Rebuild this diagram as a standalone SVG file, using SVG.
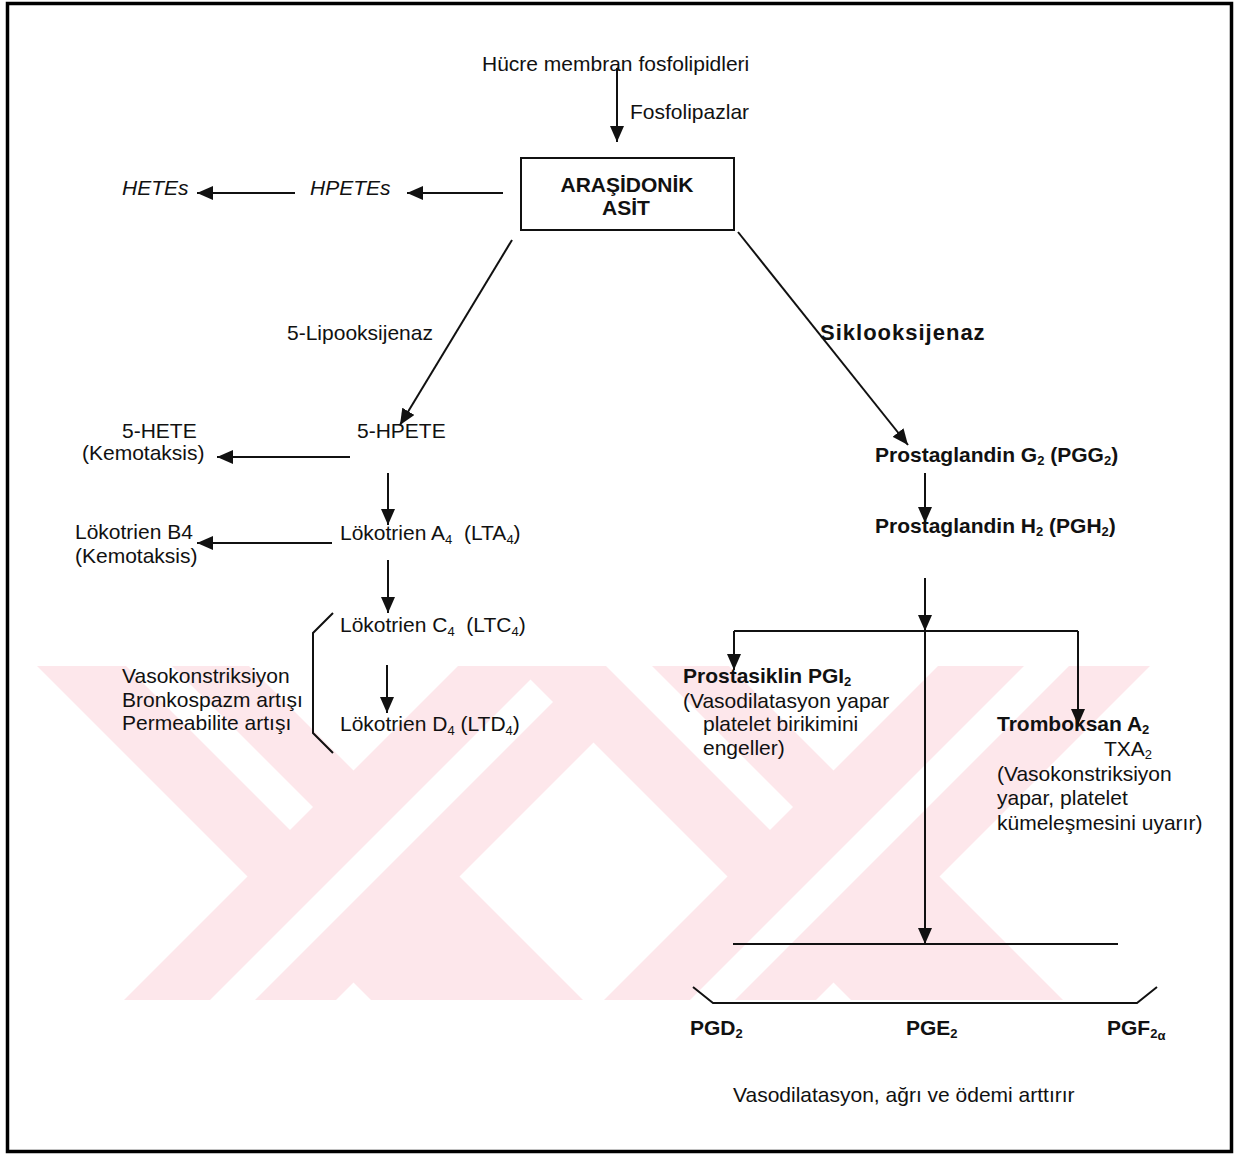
<svg xmlns="http://www.w3.org/2000/svg" width="1245" height="1155" viewBox="0 0 1245 1155">
<style>
text{font-family:"Liberation Sans",Arial,sans-serif;font-size:21px;fill:#111}
.b{font-weight:bold}
.i{font-style:italic}
.s{font-size:13px}
.ln{stroke:#111;stroke-width:2;fill:none}
.ar{stroke:#111;stroke-width:2;fill:none;marker-end:url(#ah)}
.wm{fill:#fde7eb}
.ww{fill:#fff}
</style>
<defs>
<marker id="ah" viewBox="0 0 16 14" markerWidth="16" markerHeight="14" refX="16" refY="7" orient="auto" markerUnits="userSpaceOnUse">
<path d="M0,0 L16,7 L0,14 z" fill="#111"/>
</marker>
<clipPath id="wmc"><rect x="37" y="666" width="1193" height="334"/></clipPath>
</defs>
<rect x="0" y="0" width="1245" height="1155" fill="#fff"/>
<g id="watermark" clip-path="url(#wmc)">
<polygon class="wm" points="37,666 249,666 583,1000 371,1000"/>
<polygon class="wm" points="458,666 670,666 336,1000 124,1000"/>
<polygon class="ww" points="126,666 172,666 313,807 290,830"/>
<polygon class="ww" points="544,666 589,666 255,1000 210,1000"/>
<polygon class="wm" points="517,666 729,666 1063,1000 851,1000"/>
<polygon class="wm" points="938,666 1150,666 816,1000 604,1000"/>
<polygon class="ww" points="606,666 652,666 793,807 770,830"/>
<polygon class="ww" points="1024,666 1069,666 735,1000 690,1000"/>
</g>
<rect x="7.5" y="3.5" width="1224" height="1148" fill="none" stroke="#000" stroke-width="3.5"/>
<g id="connectors">
<line class="ar" x1="617" y1="68" x2="617" y2="142"/>
<line class="ar" x1="503" y1="193" x2="407" y2="193"/>
<line class="ar" x1="295" y1="193" x2="197" y2="193"/>
<line class="ar" x1="512" y1="240" x2="400" y2="425"/>
<line class="ar" x1="738" y1="232" x2="908" y2="445"/>
<line class="ar" x1="350" y1="457" x2="217" y2="457"/>
<line class="ar" x1="388" y1="473" x2="388" y2="525"/>
<line class="ar" x1="332" y1="543" x2="197" y2="543"/>
<line class="ar" x1="388" y1="560" x2="388" y2="613"/>
<line class="ar" x1="387" y1="665" x2="387" y2="713"/>
<line class="ar" x1="925" y1="473" x2="925" y2="523"/>
<line class="ar" x1="925" y1="578" x2="925" y2="631"/>
<line class="ln" x1="734" y1="631" x2="1078" y2="631"/>
<line class="ar" x1="734" y1="631" x2="734" y2="670"/>
<line class="ar" x1="1078" y1="631" x2="1078" y2="725"/>
<line class="ar" x1="925" y1="631" x2="925" y2="944"/>
<line class="ln" x1="733" y1="944" x2="1118" y2="944"/>
<path class="ln" d="M693,987 L713,1003 L1137,1003 L1157,987"/>
<path class="ln" d="M333,613 L313,633 L313,733 L333,753"/>
</g>
<g id="n-hucre"><text x="482" y="71">Hücre membran fosfolipidleri</text></g>
<g id="n-fosfolipazlar"><text x="630" y="119">Fosfolipazlar</text></g>
<g id="n-arasidonik">
<rect x="521" y="158" width="213" height="72" fill="#fff" stroke="#111" stroke-width="2"/>
<text class="b" x="627" y="192" text-anchor="middle">ARAŞİDONİK</text>
<text class="b" x="626" y="215" text-anchor="middle">ASİT</text>
</g>
<g id="n-hetes"><text class="i" x="122" y="195">HETEs</text></g>
<g id="n-hpetes"><text class="i" x="310" y="195">HPETEs</text></g>
<g id="n-lipo"><text x="287" y="340">5-Lipooksijenaz</text></g>
<g id="n-siklo"><text class="b" x="820" y="340" style="font-size:22px" letter-spacing="1">Siklooksijenaz</text></g>
<g id="n-5hete"><text x="122" y="438">5-HETE</text><text x="82" y="460">(Kemotaksis)</text></g>
<g id="n-5hpete"><text x="357" y="438">5-HPETE</text></g>
<g id="n-lta4"><text x="340" y="540">Lökotrien A<tspan class="s" dy="4">4</tspan><tspan dy="-4">&#160; (LTA</tspan><tspan class="s" dy="4">4</tspan><tspan dy="-4">)</tspan></text></g>
<g id="n-ltb4"><text x="75" y="539">Lökotrien B4</text><text x="75" y="563">(Kemotaksis)</text></g>
<g id="n-ltc4"><text x="340" y="632">Lökotrien C<tspan class="s" dy="4">4</tspan><tspan dy="-4">&#160; (LTC</tspan><tspan class="s" dy="4">4</tspan><tspan dy="-4">)</tspan></text></g>
<g id="n-ltd4"><text x="340" y="731">Lökotrien D<tspan class="s" dy="4">4</tspan><tspan dy="-4"> (LTD</tspan><tspan class="s" dy="4">4</tspan><tspan dy="-4">)</tspan></text></g>
<g id="n-effects">
<text x="122" y="683">Vasokonstriksiyon</text>
<text x="122" y="707">Bronkospazm artışı</text>
<text x="122" y="730">Permeabilite artışı</text>
</g>
<g id="n-pgg2"><text class="b" x="875" y="462">Prostaglandin G<tspan class="s" dy="3">2</tspan><tspan dy="-3"> (PGG</tspan><tspan class="s" dy="3">2</tspan><tspan dy="-3">)</tspan></text></g>
<g id="n-pgh2"><text class="b" x="875" y="533">Prostaglandin H<tspan class="s" dy="3">2</tspan><tspan dy="-3"> (PGH</tspan><tspan class="s" dy="3">2</tspan><tspan dy="-3">)</tspan></text></g>
<g id="n-pgi2">
<text class="b" x="683" y="683">Prostasiklin PGI<tspan class="s" dy="3">2</tspan></text>
<text x="683" y="708">(Vasodilatasyon yapar</text>
<text x="703" y="731">platelet birikimini</text>
<text x="703" y="755">engeller)</text>
</g>
<g id="n-txa2">
<text class="b" x="997" y="731">Tromboksan A<tspan class="s" dy="3">2</tspan></text>
<text x="1104" y="756">TXA<tspan class="s" dy="3">2</tspan></text>
<text x="997" y="781">(Vasokonstriksiyon</text>
<text x="997" y="805">yapar, platelet</text>
<text x="997" y="830">kümeleşmesini uyarır)</text>
</g>
<g id="n-pgd2"><text class="b" x="690" y="1035">PGD<tspan class="s" dy="3">2</tspan></text></g>
<g id="n-pge2"><text class="b" x="906" y="1035">PGE<tspan class="s" dy="3">2</tspan></text></g>
<g id="n-pgf2a"><text class="b" x="1107" y="1035">PGF<tspan class="s" dy="3">2</tspan><tspan class="s" dy="2">α</tspan></text></g>
<g id="n-result"><text x="733" y="1102">Vasodilatasyon, ağrı ve ödemi arttırır</text></g>
</svg>
